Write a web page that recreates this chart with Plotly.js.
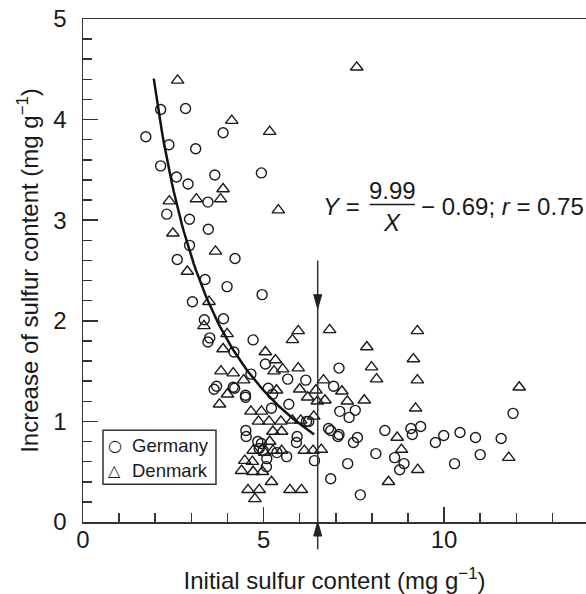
<!DOCTYPE html>
<html>
<head>
<meta charset="utf-8">
<script src="https://cdn.plot.ly/plotly-3.0.1.min.js"></script>
<style>html,body{margin:0;padding:0;background:#fff;overflow:hidden}#chart{width:586px;height:594px}</style>
</head>
<body>
<div id="chart"></div>
<script>
// Germany (circles)
const germanyX = [1.74,2.15,2.38,2.15,2.84,3.12,3.88,2.59,2.91,3.65,3.46,2.32,2.95,3.47,2.95,2.61,4.21,3.38,3.99,4.94,4.96,3.03,3.36,3.89,3.51,3.46,4.71,4.18,3.63,3.70,4.16,4.20,4.50,4.50,4.65,5.05,5.13,5.25,5.22,5.67,5.70,6.17,6.19,6.25,5.93,5.64,4.51,4.52,4.84,4.94,4.99,5.09,5.37,6.41,6.80,6.86,6.94,7.09,7.11,7.37,7.54,7.06,7.09,7.49,7.60,7.33,7.68,8.11,8.36,8.63,8.77,8.89,9.08,9.12,9.35,9.76,9.99,10.44,10.29,10.87,11.00,11.58,11.91,6.86,5.91,4.88,5.08];
const germanyY = [3.83,4.10,3.75,3.54,4.11,3.71,3.87,3.43,3.36,3.45,3.18,3.06,3.01,2.91,2.75,2.61,2.62,2.41,2.34,3.47,2.26,2.19,2.01,2.02,1.83,1.79,1.81,1.69,1.32,1.35,1.34,1.33,1.24,1.26,1.47,1.57,1.33,1.27,1.13,1.42,1.17,1.41,1.00,1.00,0.85,0.65,0.91,0.85,0.80,0.78,0.71,0.63,0.69,0.61,0.93,0.43,1.35,1.53,1.10,1.04,1.11,0.85,0.87,0.79,0.84,0.58,0.27,0.68,0.91,0.64,0.52,0.58,0.93,0.87,0.95,0.79,0.86,0.89,0.58,0.84,0.67,0.83,1.08,0.91,0.79,0.73,0.55];
// Denmark (triangles)
const denmarkX = [2.62,4.12,5.17,7.58,3.88,3.81,3.14,2.39,5.41,2.49,3.67,2.89,3.49,3.35,3.99,3.88,5.96,5.80,6.83,5.05,5.33,3.82,4.16,5.29,5.53,5.96,4.45,4.00,3.78,5.36,6.00,6.22,6.45,6.49,6.66,6.70,7.17,7.32,7.79,7.86,7.99,8.13,9.15,9.26,9.26,9.21,9.27,8.70,8.82,8.46,11.79,12.08,4.65,4.94,4.86,5.15,5.48,5.26,5.50,5.80,6.03,5.17,4.71,5.26,5.50,5.03,4.48,4.69,4.39,4.71,4.97,5.22,4.57,4.88,4.76,5.73,6.05,6.13,6.37,6.39,6.60];
const denmarkY = [4.39,3.99,3.88,4.52,3.31,3.21,3.21,3.19,3.10,2.87,2.69,2.49,2.19,1.95,1.87,1.72,1.90,1.81,1.91,1.69,1.61,1.50,1.48,1.50,1.52,1.53,1.41,1.27,1.17,1.31,1.32,1.24,1.31,1.20,1.41,1.21,1.30,1.20,1.21,1.74,1.54,1.42,1.62,1.90,1.41,1.13,0.52,0.84,0.72,0.40,0.64,1.34,1.10,1.10,1.00,1.00,1.00,0.90,0.90,1.01,1.01,0.80,0.71,0.71,0.71,0.69,0.61,0.60,0.51,0.50,0.50,0.40,0.32,0.32,0.23,0.32,0.32,0.71,0.71,1.05,0.72];
const seriesNames = ['Germany', 'Denmark'];
// Fitted curve shown in the figure: Y = 9.99/X - 0.69
const fitA = 9.99, fitB = -0.69;
const fitXStart = 1.96, fitXEnd = 6.4;
const splitX = 6.5;

const fitX = [], fitY = [];
const nFit = 80;
for (let i = 0; i <= nFit; i++) {
  const x = fitXStart + (fitXEnd - fitXStart) * i / nFit;
  fitX.push(x); fitY.push(fitA / x + fitB);
}

const ink = '#1a1a1a';
const FONT = 'Liberation Sans, Arial, Helvetica, sans-serif';

const traces = [
  {x: germanyX, y: germanyY, mode: 'markers', type: 'scatter', name: seriesNames[0], showlegend: false,
   marker: {symbol: 'circle-open', size: 10, color: ink, line: {width: 1.4, color: ink}}},
  {x: denmarkX, y: denmarkY, mode: 'markers', type: 'scatter', name: seriesNames[1], showlegend: false,
   marker: {symbol: 'triangle-up-open', size: 11, color: ink, line: {width: 1.4, color: ink}}},
  {x: fitX, y: fitY, mode: 'lines', type: 'scatter', showlegend: false,
   line: {color: '#111', width: 2.5}}
];

const yr = [0, 5];
function paperY(v) { return (v - yr[0]) / (yr[1] - yr[0]); }
// legend box geometry (paper units)
const lgX0 = 0.0398, lgX1 = 0.2644, lgY0 = 0.075, lgY1 = 0.1824;
const lgSymX = 0.0636, lgTxtX = 0.0935, lgRow1 = 0.152, lgRow2 = 0.102;

const layout = {
  width: 586, height: 594,
  margin: {l: 83, r: 0, t: 19, b: 72},
  paper_bgcolor: '#fff', plot_bgcolor: '#fff',
  font: {family: FONT, color: ink, size: 24},
  showlegend: false,
  xaxis: {range: [0, 13.93], dtick: 5, tick0: 0, ticks: 'inside', ticklen: 15, tickwidth: 1.5, tickcolor: '#333',
    minor: {dtick: 1, ticks: 'inside', ticklen: 9, tickwidth: 1.5, tickcolor: '#333'},
    showgrid: false, zeroline: false, showline: true, linecolor: '#333', linewidth: 1.5, mirror: true,
    ticklabelstandoff: -4,
    tickfont: {size: 24, family: FONT, color: ink},
    title: {text: 'Initial sulfur content (mg g<sup>\u22121</sup>)', font: {size: 24, family: FONT, color: ink}, standoff: 28}},
  yaxis: {range: yr, dtick: 1, tick0: 0, ticks: 'inside', ticklen: 15, tickwidth: 1.5, tickcolor: '#333',
    minor: {dtick: 0.2, ticks: 'inside', ticklen: 9, tickwidth: 1.5, tickcolor: '#333'},
    showgrid: false, zeroline: false, showline: true, linecolor: '#333', linewidth: 1.5, mirror: false,
    ticklabelstandoff: 10,
    tickfont: {size: 24, family: FONT, color: ink},
    title: {text: 'Increase of sulfur content (mg g<sup>\u22121</sup>)', font: {size: 24, family: FONT, color: ink}, standoff: 8}},
  shapes: [
    // vertical boundary line with arrowheads
    {type: 'line', xref: 'x', yref: 'paper', x0: splitX, x1: splitX, y0: paperY(-0.27), y1: paperY(2.6),
     line: {color: '#333', width: 1.5}},
    {type: 'path', xref: 'x', yref: 'paper', xsizemode: 'pixel', ysizemode: 'pixel', xanchor: splitX, yanchor: paperY(2.12),
     path: 'M -4,14 L 4,14 L 0,0 Z', fillcolor: '#222', line: {color: '#222', width: 1}},
    {type: 'path', xref: 'x', yref: 'paper', xsizemode: 'pixel', ysizemode: 'pixel', xanchor: splitX, yanchor: paperY(0),
     path: 'M -4,-14 L 4,-14 L 0,0 Z', fillcolor: '#222', line: {color: '#222', width: 1}},
    // fraction bar of the equation
    {type: 'line', xref: 'x', yref: 'y', x0: 7.94, x1: 9.19, y0: 3.155, y1: 3.155, line: {color: ink, width: 1.5}},
    // legend box
    {type: 'rect', xref: 'paper', yref: 'paper', x0: lgX0, x1: lgX1, y0: lgY0, y1: lgY1,
     fillcolor: '#fff', line: {color: '#333', width: 1.5}, layer: 'above'}
  ],
  annotations: [
    {x: 7.72, y: 3.14, xref: 'x', yref: 'y', xanchor: 'right', yanchor: 'middle', showarrow: false,
     text: '<i>Y</i> =', font: {size: 24, family: FONT, color: ink}},
    {x: 8.565, y: 3.30, xref: 'x', yref: 'y', xanchor: 'center', yanchor: 'middle', showarrow: false,
     text: '9.99', font: {size: 24, family: FONT, color: ink}},
    {x: 8.565, y: 2.98, xref: 'x', yref: 'y', xanchor: 'center', yanchor: 'middle', showarrow: false,
     text: '<i>X</i>', font: {size: 24, family: FONT, color: ink}},
    {x: 9.30, y: 3.14, xref: 'x', yref: 'y', xanchor: 'left', yanchor: 'middle', showarrow: false,
     text: '\u2212 0.69; <i>r</i> = 0.75', font: {size: 24, family: FONT, color: ink}},
    // legend entries
    {x: lgSymX, y: lgRow1, xref: 'paper', yref: 'paper', xanchor: 'center', yanchor: 'middle', showarrow: false,
     text: '\u25CB', font: {size: 16, family: 'DejaVu Sans', color: ink}},
    {x: lgSymX, y: lgRow2, xref: 'paper', yref: 'paper', xanchor: 'center', yanchor: 'middle', showarrow: false,
     text: '\u25B3', font: {size: 16, family: 'DejaVu Sans', color: ink}},
    {x: lgTxtX, y: lgRow1, xref: 'paper', yref: 'paper', xanchor: 'left', yanchor: 'middle', showarrow: false,
     text: seriesNames[0], font: {size: 18.5, family: FONT, color: ink}},
    {x: lgTxtX, y: lgRow2, xref: 'paper', yref: 'paper', xanchor: 'left', yanchor: 'middle', showarrow: false,
     text: seriesNames[1], font: {size: 18.5, family: FONT, color: ink}}
  ]
};

Plotly.newPlot('chart', traces, layout, {displayModeBar: false, staticPlot: true});
</script>
</body>
</html>
